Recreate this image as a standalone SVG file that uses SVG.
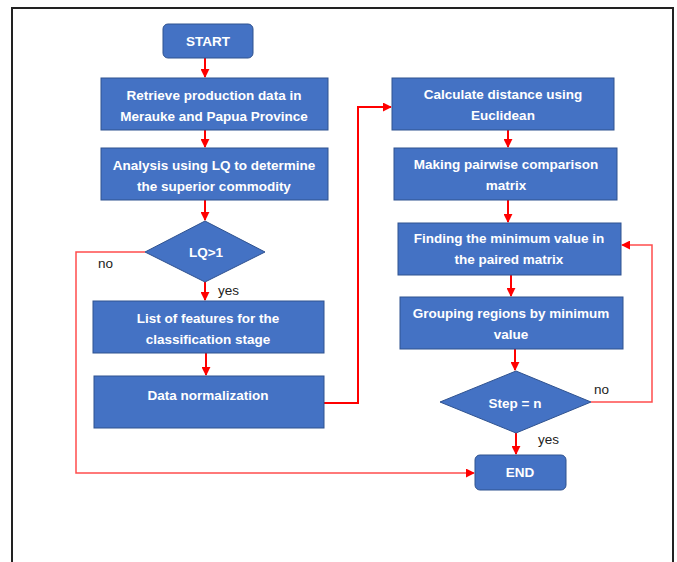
<svg xmlns="http://www.w3.org/2000/svg" width="677" height="562" viewBox="0 0 677 562">
<defs>
<style>
.n{fill:#4472c4;stroke:#2f528f;stroke-width:1}
.t{fill:#fff;font-family:"Liberation Sans",Arial,sans-serif;font-weight:bold;font-size:13.5px;text-anchor:middle}
.l{fill:#222;font-family:"Liberation Sans",Arial,sans-serif;font-size:13.5px}
.c{fill:none;stroke:#ff0000;stroke-width:2}
.c2{fill:none;stroke:#ff4d4d;stroke-width:1.5}
</style>
<marker id="a" viewBox="0 0 10 10" refX="9" refY="5" markerWidth="4.5" markerHeight="4.5" orient="auto" markerUnits="strokeWidth"><path d="M0,0L10,5L0,10z" fill="#ff0000"/></marker>
<marker id="a2" viewBox="0 0 10 10" refX="9" refY="5" markerWidth="6" markerHeight="6" orient="auto" markerUnits="strokeWidth"><path d="M0,0L10,5L0,10z" fill="#ff0000"/></marker>
</defs>
<rect x="0" y="0" width="677" height="562" fill="#fff"/>
<path d="M12,570V8H673V570" fill="none" stroke="#222" stroke-width="2"/>
<g id="connectors">
<path class="c" d="M205,58V77" marker-end="url(#a)"/>
<path class="c" d="M205,130V147" marker-end="url(#a)"/>
<path class="c" d="M205,200V220" marker-end="url(#a)"/>
<path class="c" d="M205,282V300" marker-end="url(#a)"/>
<path class="c" d="M206,353V375" marker-end="url(#a)"/>
<path class="c" d="M324,403H358V107H391" marker-end="url(#a)"/>
<path class="c" d="M508,130V147" marker-end="url(#a)"/>
<path class="c" d="M508,200V222" marker-end="url(#a)"/>
<path class="c" d="M511,275V296" marker-end="url(#a)"/>
<path class="c" d="M515,349V370" marker-end="url(#a)"/>
<path class="c" d="M516,433V454" marker-end="url(#a)"/>
<path class="c2" d="M591,402H652V245H622" marker-end="url(#a2)"/>
<path class="c2" d="M145,252H76V473H474" marker-end="url(#a2)"/>
<text class="l" x="98" y="268">no</text>
<text class="l" x="218" y="295">yes</text>
<text class="l" x="594" y="394">no</text>
<text class="l" x="538" y="444">yes</text>
</g>
<g id="start"><rect class="n" x="163" y="24" width="90" height="34" rx="5"/><text class="t" x="208" y="46">START</text></g>
<g id="retrieve"><rect class="n" x="101" y="78" width="227" height="52"/><text class="t" x="214" y="100">Retrieve production data in</text><text class="t" x="214" y="121">Merauke and Papua Province</text></g>
<g id="analysis"><rect class="n" x="101" y="148" width="227" height="52"/><text class="t" x="214" y="170">Analysis using LQ to determine</text><text class="t" x="214" y="191">the superior commodity</text></g>
<g id="lq"><path class="n" d="M205,221L265,252L205,282L145,252Z"/><text class="t" x="206" y="257">LQ&gt;1</text></g>
<g id="features"><rect class="n" x="93" y="301" width="231" height="52"/><text class="t" x="208" y="323">List of features for the</text><text class="t" x="208" y="344">classification stage</text></g>
<g id="normalization"><rect class="n" x="94" y="376" width="230" height="52"/><text class="t" x="208" y="400">Data normalization</text></g>
<g id="distance"><rect class="n" x="392" y="78" width="222" height="52"/><text class="t" x="503" y="99">Calculate distance using</text><text class="t" x="503" y="120">Euclidean</text></g>
<g id="pairwise"><rect class="n" x="394" y="148" width="223" height="52"/><text class="t" x="506" y="169">Making pairwise comparison</text><text class="t" x="506" y="190">matrix</text></g>
<g id="minimum"><rect class="n" x="398" y="223" width="223" height="52"/><text class="t" x="509" y="243">Finding the minimum value in</text><text class="t" x="509" y="264">the paired matrix</text></g>
<g id="grouping"><rect class="n" x="400" y="297" width="223" height="52"/><text class="t" x="511" y="318">Grouping regions by minimum</text><text class="t" x="511" y="339">value</text></g>
<g id="step"><path class="n" d="M516,371L591,402L516,433L440,402Z"/><text class="t" x="515" y="408">Step = n</text></g>
<g id="end"><rect class="n" x="475" y="455" width="91" height="35" rx="5"/><text class="t" x="520" y="477">END</text></g>
</svg>
